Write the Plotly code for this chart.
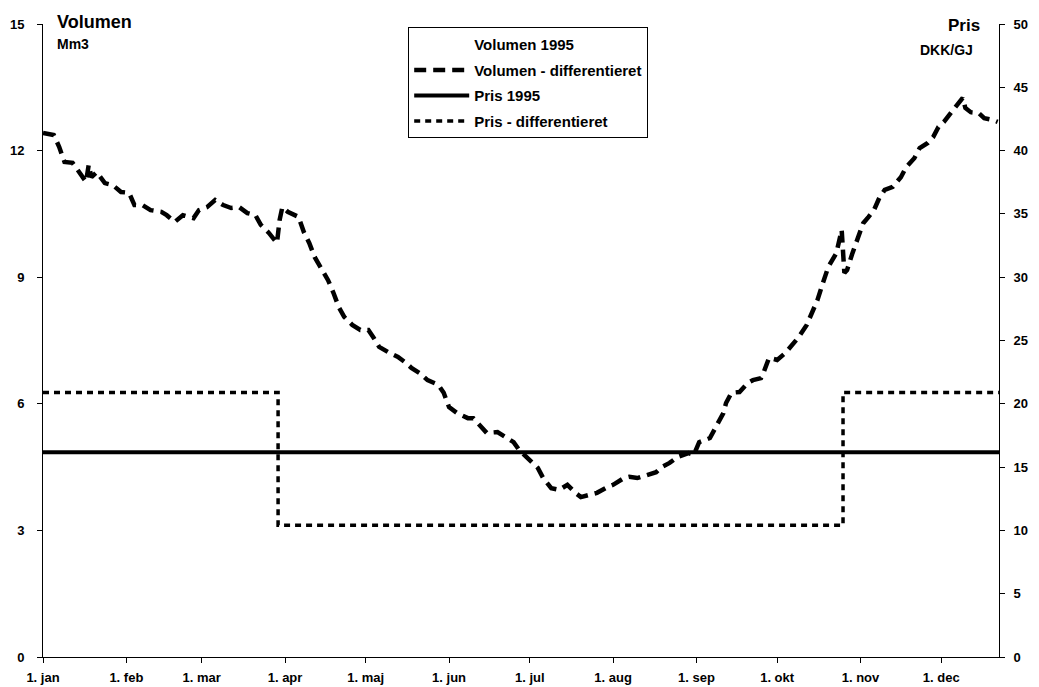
import pandas as pd
import plotly.graph_objects as go

# Volumen - differentieret (Mm3): day of year 1995 and value
vol_day = [0, 4, 6, 8, 11, 14, 16, 17, 18, 20, 23, 26, 29, 32, 34, 37, 40, 44, 46, 49,
           52, 56, 58, 61, 64, 67, 70, 73, 76, 79, 81, 84, 87, 88, 89, 91, 95, 97, 99, 101,
           104, 106, 108, 110, 112, 115, 118, 121, 123, 125, 129, 132, 135, 137, 140, 143, 147, 149, 151, 154,
           158, 160, 163, 165, 169, 171, 175, 177, 181, 184, 186, 189, 192, 195, 198, 200, 203, 206, 210, 212,
           216, 218, 221, 224, 228, 230, 233, 236, 240, 242, 244, 248, 251, 253, 254, 256, 259, 262, 264, 267,
           268, 270, 273, 276, 278, 281, 284, 286, 288, 290, 292, 295, 296, 297, 298, 299, 301, 303, 305, 307,
           309, 311, 313, 316, 319, 321, 324, 326, 329, 331, 333, 335, 337, 339, 342, 343, 345, 348, 350, 353,
           355]
vol_diff = [12.42, 12.37, 12.09, 11.73, 11.71, 11.42, 11.26, 11.66, 11.37, 11.49, 11.23, 11.18, 11.02, 11.00, 10.71, 10.71, 10.59, 10.55, 10.47, 10.31,
            10.47, 10.40, 10.59, 10.66, 10.83, 10.71, 10.64, 10.66, 10.52, 10.47, 10.24, 10.05, 9.81, 10.36, 10.66, 10.55, 10.43, 10.07, 9.81, 9.48,
            9.12, 8.93, 8.63, 8.29, 8.06, 7.87, 7.75, 7.75, 7.56, 7.35, 7.20, 7.11, 6.97, 6.85, 6.73, 6.56, 6.45, 6.26, 5.92, 5.78,
            5.66, 5.66, 5.45, 5.31, 5.33, 5.26, 5.09, 4.91, 4.67, 4.48, 4.24, 4.00, 3.96, 4.08, 3.89, 3.79, 3.84, 3.89, 4.03, 4.08,
            4.24, 4.27, 4.24, 4.31, 4.38, 4.50, 4.60, 4.74, 4.83, 4.79, 5.09, 5.19, 5.55, 5.78, 6.02, 6.26, 6.28, 6.49, 6.56, 6.61,
            6.75, 7.09, 7.04, 7.20, 7.35, 7.58, 7.87, 8.15, 8.46, 8.86, 9.24, 9.57, 9.88, 10.12, 9.10, 9.17, 9.57, 9.95, 10.28, 10.43,
            10.59, 10.88, 11.07, 11.14, 11.37, 11.61, 11.82, 12.06, 12.18, 12.32, 12.56, 12.68, 12.84, 13.03, 13.25, 13.01, 12.91, 12.89, 12.77, 12.73,
            12.68]

# Pris 1995 (DKK/GJ), flat over the year
pris_dates = ['1995-01-01', '1995-12-22 12:00']
pris_1995 = [16.17, 16.17]

# Pris - differentieret, step function
pris_diff_dates = ['1995-01-01', '1995-03-29 10:00', '1995-10-25 12:00', '1995-12-22 12:00']
pris_diff = [20.9, 10.4, 20.9, 20.9]

month_ticks = pd.date_range('1995-01-01', '1995-12-01', freq='MS')
month_labels = ['1. jan', '1. feb', '1. mar', '1. apr', '1. maj', '1. jun',
                '1. jul', '1. aug', '1. sep', '1. okt', '1. nov', '1. dec']

vol_dates = pd.Timestamp('1995-01-01') + pd.to_timedelta(vol_day, unit='D')

FONT = 'Arial, Liberation Sans, sans-serif'

fig = go.Figure()

# legend-only entry, no line drawn in the original
fig.add_trace(go.Scatter(x=[None], y=[None], mode='lines', name='Volumen 1995', legendgroup='a',
                         line=dict(color='rgba(255,255,255,0)', width=1)))

fig.add_trace(go.Scatter(x=vol_dates, y=vol_diff, mode='lines', name='Volumen - differentieret',
                         legendgroup='b',
                         line=dict(color='black', width=4.5, dash='12px,7px')))

fig.add_trace(go.Scatter(x=pris_dates, y=pris_1995, mode='lines', name='Pris 1995', legendgroup='c',
                         yaxis='y2', line=dict(color='black', width=4)))

fig.add_trace(go.Scatter(x=pris_diff_dates, y=pris_diff, mode='lines', name='Pris - differentieret',
                         legendgroup='d',
                         yaxis='y2', line=dict(color='black', width=3.5, dash='6px,5px', shape='hv')))

axis_common = dict(showline=True, linecolor='black', linewidth=1,
                   ticks='outside', ticklen=5, tickcolor='black',
                   showgrid=False, zeroline=False, automargin=False,
                   tickfont=dict(size=13, family=FONT, weight='bold'))

fig.update_layout(
    width=1039, height=687,
    margin=dict(l=43, r=40, t=24, b=30),
    plot_bgcolor='white', paper_bgcolor='white',
    font=dict(family=FONT, color='black', size=13, weight='bold'),
    showlegend=True,
    legend=dict(x=0.382, y=0.995, xanchor='left', yanchor='top',
                bordercolor='black', borderwidth=1, bgcolor='white',
                font=dict(size=15, family=FONT, weight='bold'),
                tracegroupgap=3, itemwidth=55),
    xaxis=dict(type='date', range=['1995-01-01', '1995-12-22 12:00'],
               tickvals=month_ticks, ticktext=month_labels,
               ticklabelstandoff=3, **axis_common),
    yaxis=dict(range=[0, 15], tickvals=[0, 3, 6, 9, 12, 15],
               ticklabelstandoff=10, **axis_common),
    yaxis2=dict(range=[0, 50], tickvals=list(range(0, 55, 5)),
                overlaying='y', side='right',
                ticklabelstandoff=6, **axis_common),
    annotations=[
        dict(text='Volumen', x=0.0126, y=1.003, xref='paper', yref='paper',
             xanchor='left', yanchor='middle', showarrow=False,
             font=dict(size=18, family=FONT, weight='bold')),
        dict(text='Mm3', x=0.0126, y=0.968, xref='paper', yref='paper',
             xanchor='left', yanchor='middle', showarrow=False,
             font=dict(size=14, family=FONT, weight='bold')),
        dict(text='Pris', x=0.982, y=0.998, xref='paper', yref='paper',
             xanchor='right', yanchor='middle', showarrow=False,
             font=dict(size=17, family=FONT, weight='bold')),
        dict(text='DKK/GJ', x=0.975, y=0.959, xref='paper', yref='paper',
             xanchor='right', yanchor='middle', showarrow=False,
             font=dict(size=14, family=FONT, weight='bold')),
    ],
)

fig.write_html('out.html', config={'displayModeBar': False},
               post_script="document.body.style.margin='0';")
